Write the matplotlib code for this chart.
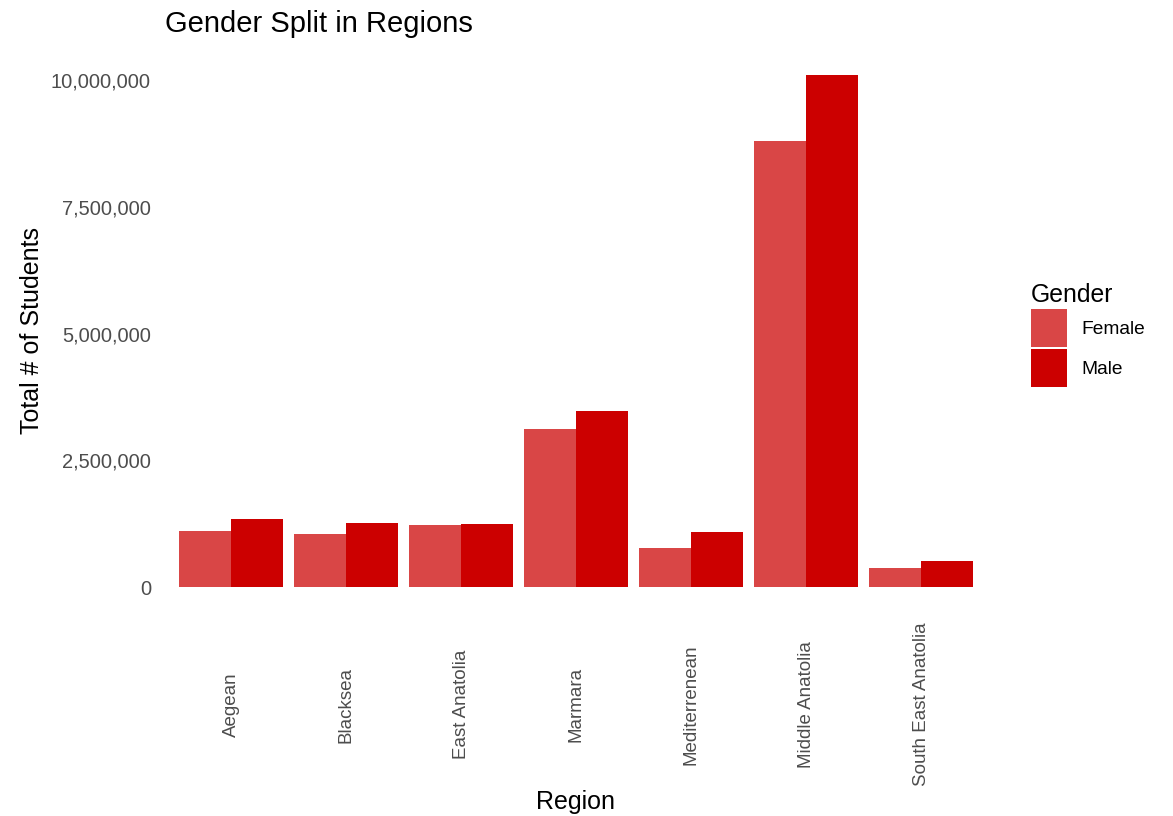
import matplotlib
matplotlib.use("Agg")
import matplotlib.pyplot as plt
import matplotlib.ticker as mticker
import numpy as np

plt.rcParams['font.family'] = ['Liberation Sans', 'DejaVu Sans']

# data
regions = ['Aegean', 'Blacksea', 'East Anatolia', 'Marmara', 'Mediterrenean',
           'Middle Anatolia', 'South East Anatolia']
female = [1120000, 1060000, 1230000, 3120000, 780000, 8790000, 390000]
male = [1340000, 1270000, 1250000, 3480000, 1090000, 10100000, 510000]

female_color = '#D94646'
male_color = '#CC0000'

fig = plt.figure(figsize=(11.73, 8.16), dpi=100)
ax = fig.add_axes([162 / 1173, 1 - 613 / 816, 828 / 1173, 564 / 816])

x = np.arange(1, len(regions) + 1)
w = 0.45
ax.bar(x - w / 2, female, width=w, color=female_color, label='Female')
ax.bar(x + w / 2, male, width=w, color=male_color, label='Male')

ax.set_xlim(0.4, len(regions) + 0.6)
top = max(male + female)
ax.set_ylim(-0.05 * top, 1.05 * top)

ax.set_yticks([0, 2500000, 5000000, 7500000, 10000000])
ax.yaxis.set_major_formatter(mticker.FuncFormatter(lambda v, p: f'{int(v):,}'))
ax.set_xticks(x)
ax.set_xticklabels(regions, rotation=90, va='center', ha='center')

ax.tick_params(axis='y', length=0, pad=8, labelsize=14.5, labelcolor='#4D4D4D')
ax.tick_params(axis='x', length=0, pad=66, labelsize=13.5, labelcolor='#4D4D4D')

for s in ax.spines.values():
    s.set_visible(False)

ax.set_ylabel('Total # of Students', fontsize=18, color='black')
ax.yaxis.set_label_coords(-0.142, 0.5)
ax.set_xlabel('Region', fontsize=18, color='black')
ax.xaxis.set_label_coords(0.5, -0.314)

fig.text(165 / 1173, 1 - 32 / 816, 'Gender Split in Regions', fontsize=21,
         ha='left', va='baseline')

leg = ax.legend(title='Gender', loc='upper left', bbox_to_anchor=(1014 / 1173, 1 - 266 / 816),
                bbox_transform=fig.transFigure, frameon=False, fontsize=13.8,
                title_fontsize=17.8, handlelength=1.88, handleheight=2.68,
                labelspacing=0.1, handletextpad=0.73, alignment='left')

fig.savefig('out.png', dpi=100, facecolor='white')
